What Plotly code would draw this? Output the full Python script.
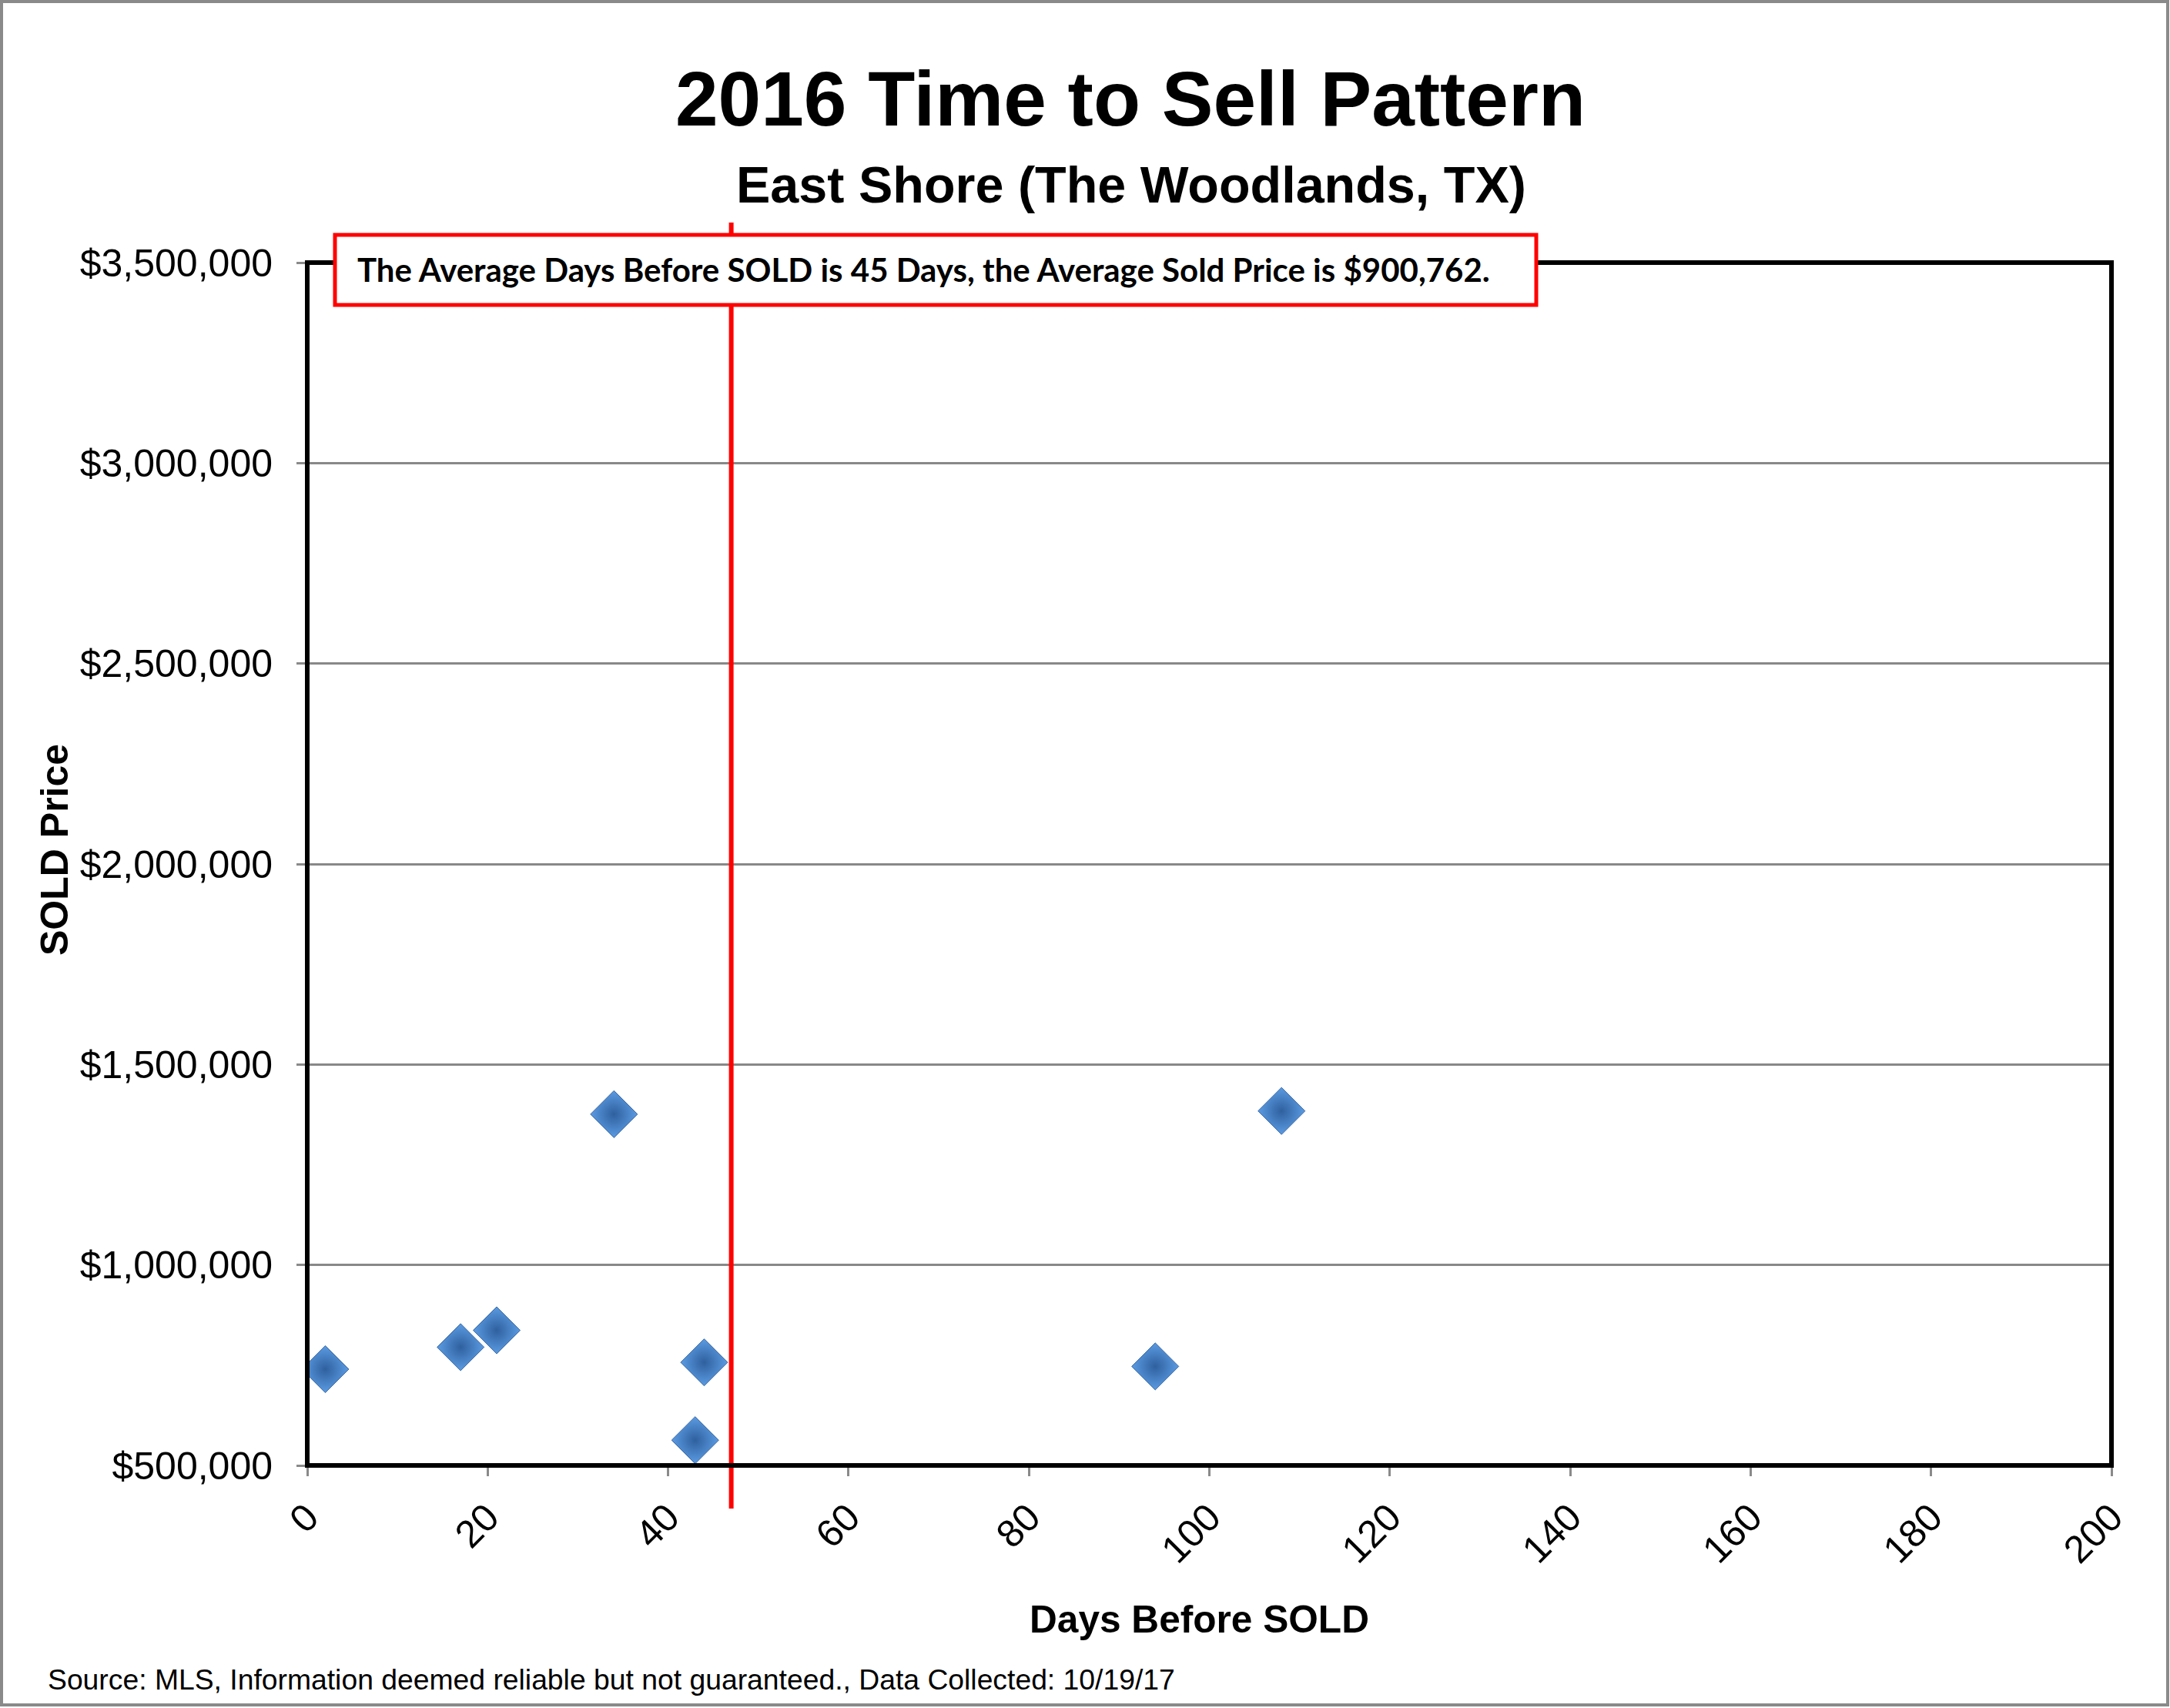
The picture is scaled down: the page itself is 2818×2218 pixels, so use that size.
import plotly.graph_objects as go

# ---- data ----
days_before_sold = [2, 17, 21, 34, 43, 44, 94, 108]
sold_price = [740000, 795000, 837000, 1376000, 563000, 757000, 747000, 1384000]
avg_line_days = 47          # position of the drawn red "average" line
x_ticks = [0, 20, 40, 60, 80, 100, 120, 140, 160, 180, 200]
y_ticks = [500000, 1000000, 1500000, 2000000, 2500000, 3000000, 3500000]

title_text = "2016 Time to Sell Pattern"
subtitle_text = "East Shore (The Woodlands, TX)"
note_text = "The Average Days Before SOLD is 45 Days, the Average Sold Price is $900,762."
source_text = "Source: MLS, Information deemed reliable but not guaranteed., Data Collected: 10/19/17"

# ---- layout geometry (pixels) ----
W, H = 2818, 2218
L, R, T, B = 399, 2742, 341, 1903
PW, PH = R - L, B - T


def px(x):
    return (x - L) / PW


def py(y):
    return (B - y) / PH


ARIAL = "Liberation Sans, Arial, sans-serif"

fig = go.Figure()
fig.add_trace(go.Scatter(
    x=days_before_sold, y=sold_price, mode="markers",
    marker=dict(symbol="diamond", size=47, color="#5b9be3",
                gradient=dict(type="radial", color="#2f609e"),
                line=dict(color="#3a67a0", width=1)),
    showlegend=False, hoverinfo="x+y"))

shapes = [
    # red average line
    dict(type="line", xref="x", yref="paper", x0=avg_line_days, x1=avg_line_days,
         y0=py(1959), y1=py(289), line=dict(color="#ff0000", width=6), layer="above"),
    # plot frame
    dict(type="rect", xref="paper", yref="paper", x0=0, x1=1, y0=0, y1=1,
         line=dict(color="#000000", width=6), layer="above"),
    # note box
    dict(type="rect", xref="paper", yref="paper", x0=px(435), x1=px(1995),
         y0=py(396), y1=py(305), fillcolor="white",
         line=dict(color="#ff0000", width=5), layer="above"),
    # outer gray frame
    dict(type="rect", xref="paper", yref="paper", x0=px(2), x1=px(2815),
         y0=py(2214), y1=py(2), line=dict(color="#8a8a8a", width=4), layer="above"),
]

annotations = [
    dict(text=f"<b>{title_text}</b>", x=px(1468), y=py(128), xref="paper", yref="paper",
         xanchor="center", yanchor="middle", showarrow=False,
         font=dict(family=ARIAL, size=100, color="black")),
    dict(text=f"<b>{subtitle_text}</b>", x=px(1469), y=py(240), xref="paper", yref="paper",
         xanchor="center", yanchor="middle", showarrow=False,
         font=dict(family=ARIAL, size=66.5, color="black")),
    dict(text=f"<b>{note_text}</b>", x=px(462), y=py(350), xref="paper", yref="paper",
         xanchor="left", yanchor="middle", showarrow=False,
         font=dict(family="Lato, Liberation Sans, sans-serif", size=42, color="black")),
    dict(text="<b>SOLD Price</b>", x=px(71), y=py(1104), xref="paper", yref="paper",
         xanchor="center", yanchor="middle", showarrow=False, textangle=-90,
         font=dict(family=ARIAL, size=50, color="black")),
    dict(text="<b>Days Before SOLD</b>", x=px(1557), y=py(2103), xref="paper", yref="paper",
         xanchor="center", yanchor="middle", showarrow=False,
         font=dict(family=ARIAL, size=49.6, color="black")),
    dict(text=source_text, x=px(60), y=py(2181), xref="paper", yref="paper",
         xanchor="left", yanchor="middle", showarrow=False,
         font=dict(family=ARIAL, size=37.3, color="black")),
]

fig.update_layout(
    width=W, height=H,
    margin=dict(l=L, r=W - R, t=T, b=H - B, pad=0),
    paper_bgcolor="white", plot_bgcolor="white",
    shapes=shapes, annotations=annotations,
    xaxis=dict(range=[0, 200], tickmode="array", tickvals=x_ticks,
               ticktext=[str(v) for v in x_ticks], tickangle=-45,
               showgrid=False, zeroline=False, showline=False,
               ticks="outside", ticklen=13, tickwidth=3, tickcolor="#8a8a8a",
               tickfont=dict(family=ARIAL, size=50, color="black"),
               ticklabelstandoff=4),
    yaxis=dict(range=[500000, 3500000], tickmode="array", tickvals=y_ticks,
               tickformat="$,.0f",
               showgrid=True, gridcolor="#888888", gridwidth=3,
               zeroline=False, showline=False,
               ticks="outside", ticklen=13, tickwidth=3, tickcolor="#8a8a8a",
               tickfont=dict(family=ARIAL, size=50, color="black"),
               ticklabelstandoff=21),
)

fig.write_html("out.html")
